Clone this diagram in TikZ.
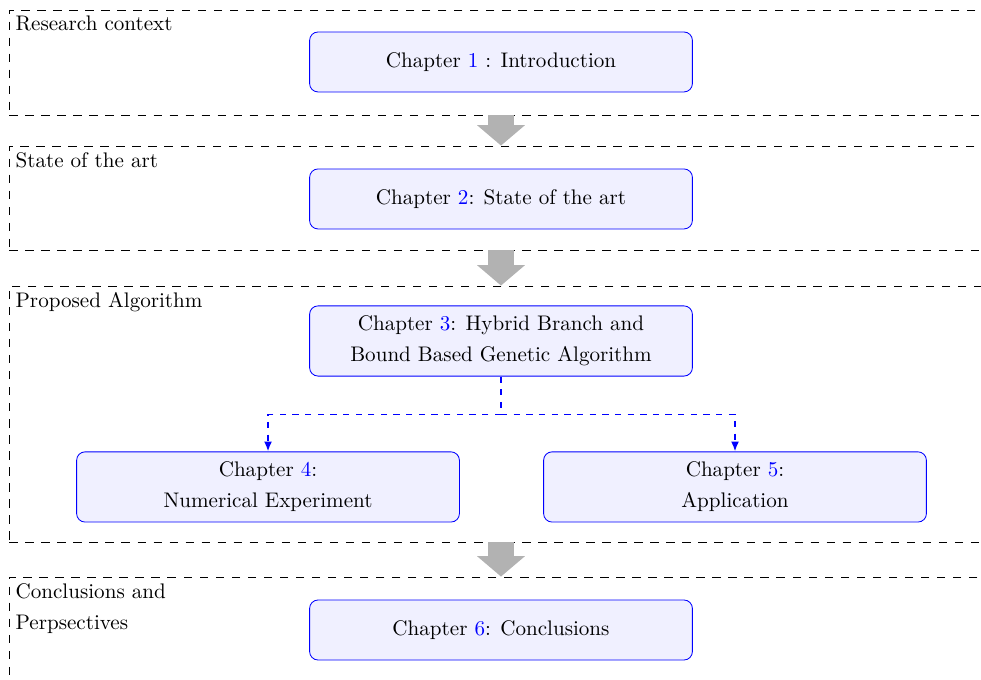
\documentclass[tikz,border=0pt]{standalone}
\usetikzlibrary{arrows.meta}
\begin{document}
\begin{tikzpicture}[>={Latex[length=4.7pt,width=3.8pt]},x=1cm,y=1cm,
	chap/.style={draw=blue,fill=blue!6,rounded corners,minimum width=6.38cm,minimum height=1cm,align=center},
	part/.style={draw,dash pattern=on 4pt off 3.6pt,minimum width=16.39cm,inner sep=0pt},
	tag/.style={anchor=north west,align=left,inner sep=3pt},
	flow/.style={line width=0.43cm,draw=gray!60,-{Triangle[length=0.34cm,width=0.78cm]}},
	link/.style={blue,line width=0.8pt,dashed}]
		\def\cx{8.35}
		\def\gap{2.7pt}
		\clip (0,0) rectangle (16.35,11.333);
		% frames
		\node[part,minimum height=1.75cm] (f1) at (\cx,10.292) {};
		\node[part,minimum height=1.733cm] (f2) at (\cx,8.033) {};
		\node[part,minimum height=4.267cm] (f3) at (\cx,4.433) {};
		\node[part,minimum height=2.317cm] (f4) at (\cx,0.558) {};
		\node[tag] (t1) at (f1.north west) {Research context};
		\node[tag] (t2) at (f2.north west) {State of the art};
		\node[tag] (t3) at (f3.north west) {Proposed Algorithm};
		\node[tag] (t4) at (f4.north west) {Conclusions and\\[\gap] Perpsectives};
		% chapters
		\node[chap] (c1) at (\cx,10.3) {Chapter \textcolor{blue}{1} : Introduction};
		\node[chap] (c2) at (\cx,8.017) {Chapter \textcolor{blue}{2}: State of the art};
		\node[chap,minimum height=1.17cm] (c3) at (\cx,5.65) {Chapter \textcolor{blue}{3}: Hybrid Branch and\\[\gap] Bound Based Genetic Algorithm};
		\node[chap,minimum height=1.17cm] (c4) at (4.467,3.217) {Chapter \textcolor{blue}{4}:\\[\gap] Numerical Experiment};
		\node[chap,minimum height=1.17cm] (c5) at (12.25,3.217) {Chapter \textcolor{blue}{5}:\\[\gap] Application};
		\node[chap] (c6) at (\cx,0.833) {Chapter \textcolor{blue}{6}: Conclusions};
		% links
		\draw[flow] (f1.south) -- (f2.north);
		\draw[flow] (f2.south) -- (f3.north);
		\draw[flow] (f3.south) -- (f4.north);
		\draw[link] (c3.south) -- ++(0,-0.633) coordinate (split);
		\draw[link,->] (split) -| (c4.north);
		\draw[link,->] (split) -| (c5.north);
\end{tikzpicture}
\end{document}
